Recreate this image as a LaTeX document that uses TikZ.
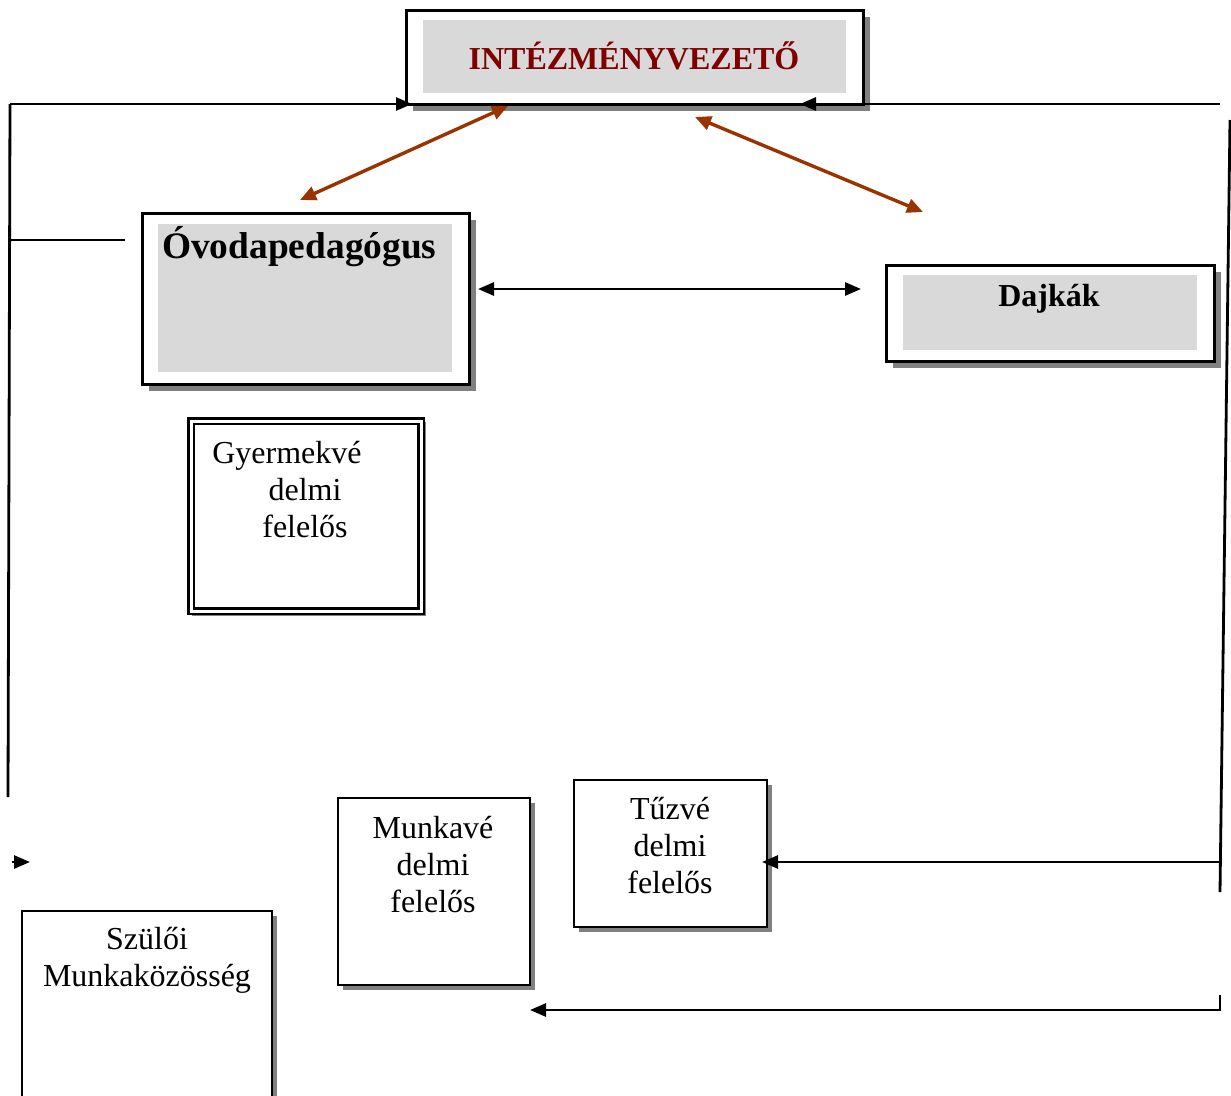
\documentclass[tikz,border=0pt]{standalone}
\usepackage{fontspec}
\setmainfont{Liberation Serif}
\usetikzlibrary{arrows.meta,shadows}
\definecolor{boxgray}{HTML}{D9D9D9}
\definecolor{shadowgray}{HTML}{808080}
\definecolor{titlered}{HTML}{800000}
\definecolor{brownarrow}{HTML}{993300}
\begin{document}
\begin{tikzpicture}[x=1pt,y=-1pt,
  frame/.style={draw=black, line width=3pt, fill=white, inner sep=0pt, anchor=north west,
    drop shadow={shadow xshift=6pt, shadow yshift=-6pt, fill=shadowgray, opacity=1}},
  thinframe/.style={draw=black, line width=2.4pt, fill=white, inner sep=0pt, anchor=north west,
    drop shadow={shadow xshift=5pt, shadow yshift=-5pt, fill=shadowgray, opacity=1}},
  graybox/.style={fill=boxgray, draw=none, inner sep=0pt, anchor=north west},
  regtext/.style={font=\fontsize{32}{37}\selectfont, inner sep=0pt, align=center, anchor=base},
  boldtext/.style={font=\fontsize{32}{37}\selectfont\bfseries, inner sep=0pt, anchor=base},
  conn/.style={draw=black, line width=2.8pt},
  tip/.style={-{Triangle[length=16pt,width=13pt]}},
  brownarr/.style={draw=brownarrow, line width=3.4pt, {Triangle[length=16pt,width=14pt]}-{Triangle[length=16pt,width=14pt]}},
]
\useasboundingbox (0,0) rectangle (1231,1095);
\clip (0,0) rectangle (1231,1095);

% top box
\node[frame, minimum width=457pt, minimum height=94pt] (top) at (405,9) {};
\node[graybox, minimum width=423pt, minimum height=73pt] (topin) at (423,20) {};
\node[boldtext, text=titlered] (toptext) at (634,69) {INTÉZMÉNYVEZETŐ};

% Ovodapedagogus
\node[frame, minimum width=327pt, minimum height=171pt] (ovo) at (141,212) {};
\node[graybox, minimum width=294pt, minimum height=148pt] (ovoin) at (158,224) {};
\node[font=\fontsize{37.4}{42}\selectfont\bfseries, inner sep=0pt, anchor=base west] (ovotext) at (162,258) {Óvodapedagógus};

% Dajkak
\node[frame, minimum width=328pt, minimum height=96pt] (dajka) at (885,264) {};
\node[graybox, minimum width=294pt, minimum height=75pt] (dajkain) at (903,275) {};
\node[boldtext] (dajkatext) at (1049,306) {Dajkák};

% Gyermekvedelmi
\draw[shadowgray, line width=1.4pt, double=white, double distance=2pt] (194,424) rectangle (424,614);
\node[draw=black, line width=2.4pt, double=white, double distance=3pt, fill=white, inner sep=0pt, anchor=north west,
      minimum width=230pt, minimum height=190pt] (gyv) at (190,420) {};
\node[regtext] (gyvtext) at (305,537) {Gyermekvé\hspace*{36pt}\\delmi\\felelős};

% Szuloi
\node[thinframe, minimum width=250pt, minimum height=200pt] (szm) at (21,910) {};
\node[regtext] (szmtext) at (147,986) {Szülői\\Munkaközösség};

% Munkavedelmi
\node[thinframe, minimum width=192pt, minimum height=187pt] (mv) at (337,797) {};
\node[regtext] (mvtext) at (433,912) {Munkavé\\delmi\\felelős};

% Tuzvedelmi
\node[thinframe, minimum width=193pt, minimum height=147pt] (tv) at (573,779) {};
\node[regtext] (tvtext) at (670,893) {Tűzvé\\delmi\\felelős};

% coordinates for connectors
\coordinate (b1a) at (300,200);
\coordinate (b1b) at (508,106);
\coordinate (b2a) at (695,117);
\coordinate (b2b) at (923,212);
\coordinate (ha) at (478,289);
\coordinate (hb) at (861,289);
\coordinate (ltop) at (10,104);
\coordinate (ltopend) at (412,104);
\coordinate (rtop) at (1220,104);
\coordinate (rtopend) at (800,104);
\coordinate (rv1) at (1230,120);
\coordinate (rv2) at (1220,892);
\coordinate (tvr) at (1220,862);
\coordinate (tvend) at (762,862);
\coordinate (br1) at (1220,995);
\coordinate (br2) at (1220,1010);
\coordinate (brend) at (530,1010);
\coordinate (lvend) at (8,797);
\coordinate (lmid) at (10,240);
\coordinate (lmidend) at (125,240);
\coordinate (sa) at (12,862);
\coordinate (sb) at (30,862);

% connectors
\draw[brownarr] (b1a) -- (b1b);
\draw[brownarr] (b2a) -- (b2b);
\draw[conn, {Triangle[length=16pt,width=13pt]}-{Triangle[length=16pt,width=13pt]}] (ha) -- (hb);
\draw[conn, tip] (ltop) -- (ltopend);
\draw[conn, tip] (rtop) -- (rtopend);
\draw[conn] (rv1) -- (rv2);
\draw[conn, tip] (tvr) -- (tvend);
\draw[conn, tip] (br1) -- (br2) -- (brend);
\draw[conn] (ltop) -- (lvend);
\draw[conn] (lmid) -- (lmidend);
\draw[conn, tip] (sa) -- (sb);
\end{tikzpicture}
\end{document}
